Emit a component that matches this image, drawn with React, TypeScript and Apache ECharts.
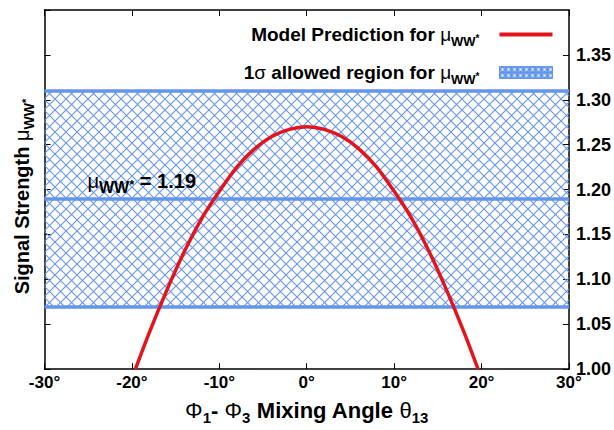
import { useEffect, useRef } from 'react';
import * as echarts from 'echarts';

// ---- data ----
const curveX = [-19.6, -18, -16, -14, -12, -10, -8, -6, -4, -2, 0, 2, 4, 6, 8, 10, 12, 14, 16, 18, 19.6];
const curveY = [1.0, 1.041, 1.088, 1.131, 1.168, 1.198, 1.225, 1.245, 1.259, 1.267, 1.27, 1.267, 1.259, 1.245, 1.225, 1.198, 1.168, 1.131, 1.088, 1.041, 1.0];
const bandLow = 1.07;
const bandHigh = 1.31;
const bandCentral = 1.19;
const xRange = [-30, 30];
const xStep = 10;
const yRange = [1.0, 1.4];
const yStep = 0.05;

const nameModel = 'Model Prediction for μWW*';
const nameBand = '1σ allowed region for μWW*';

const BLUE = '#6495ed';
const RED = '#e3141c';
const SANS = '"Liberation Sans", Arial, Helvetica, sans-serif';
const HATCH = 11;

function hatchCanvas(): string {
  const c = document.createElement('canvas');
  c.width = HATCH;
  c.height = HATCH;
  const ctx = c.getContext('2d')!;
  ctx.strokeStyle = BLUE;
  ctx.lineWidth = 1.1;
  ctx.beginPath();
  ctx.moveTo(-1, -1);
  ctx.lineTo(HATCH + 1, HATCH + 1);
  ctx.moveTo(HATCH + 1, -1);
  ctx.lineTo(-1, HATCH + 1);
  ctx.stroke();
  return c.toDataURL();
}

function legendCanvas(): string {
  const c = document.createElement('canvas');
  c.width = 6;
  c.height = 6;
  const ctx = c.getContext('2d')!;
  ctx.fillStyle = BLUE;
  ctx.fillRect(0, 0, 6, 6);
  ctx.strokeStyle = '#ffffff';
  ctx.lineWidth = 1;
  ctx.beginPath();
  ctx.moveTo(1.5, 1.5);
  ctx.lineTo(4.5, 4.5);
  ctx.moveTo(4.5, 1.5);
  ctx.lineTo(1.5, 4.5);
  ctx.stroke();
  return c.toDataURL();
}

function richSet(main: number, sub: number, subPad: number, endPad = 0) {
  return {
    b: { fontFamily: SANS, fontWeight: 'bold', fontSize: main, color: '#000', lineHeight: main + 3 },
    g: { fontFamily: SANS, fontWeight: 'normal', fontSize: main, color: '#000', lineHeight: main + 3 },
    sub: { fontFamily: SANS, fontWeight: 'bold', fontSize: sub, color: '#000', lineHeight: sub, padding: [subPad, 0, 0, 0] },
    st: {
      fontFamily: SANS,
      fontWeight: 'bold',
      fontSize: Math.round(sub * 0.8),
      color: '#000',
      lineHeight: sub,
      padding: [Math.round(subPad * 0.6), endPad, 0, 0],
    },
  };
}

export default function App() {
  const ref = useRef<HTMLDivElement>(null);
  useEffect(() => {
    if (!ref.current) return;
    const chart = echarts.init(ref.current, null, { renderer: 'svg' });
    const hatch = { image: hatchCanvas(), repeat: 'repeat', imageWidth: HATCH, imageHeight: HATCH };
    const legendPat = { image: legendCanvas(), repeat: 'repeat', imageWidth: 6, imageHeight: 6 };
    const axisLine = { show: true, onZero: false, lineStyle: { color: '#000', width: 1.5 } };
    const axisTick = { show: true, inside: true, length: 6, lineStyle: { color: '#000', width: 1 } };
    const lineIcon =
      'path://M0,0 L0.01,0 L0,0.01 Z M0,4 L53,4 L53,8 L0,8 Z M53,12 L52.99,12 L53,11.99 Z';

    const option: any = {
      animation: false,
      backgroundColor: '#ffffff',
      grid: { left: 39, right: 42, top: 10, bottom: 55 },
      legend: {
        orient: 'vertical',
        align: 'right',
        right: 61,
        top: 21,
        padding: 0,
        itemGap: 11,
        itemWidth: 53,
        itemHeight: 12,
        selectedMode: false,
        data: [
          { name: nameModel, icon: lineIcon, itemStyle: { color: RED } },
          { name: nameBand, icon: 'rect', itemStyle: { color: legendPat, borderColor: BLUE, borderWidth: 1 } },
        ],
        formatter: (n: string) =>
          n === nameModel
            ? '{b|Model Prediction for }{g|μ}{sub|WW}{st|*}'
            : '{b|1}{g|σ}{b| allowed region for }{g|μ}{sub|WW}{st|*}',
        textStyle: { rich: richSet(19, 13, 14, 15) },
      },
      xAxis: [
        {
          type: 'value',
          min: xRange[0],
          max: xRange[1],
          interval: xStep,
          position: 'bottom',
          axisLine,
          axisTick,
          splitLine: { show: false },
          axisLabel: {
            formatter: (v: number) => v + '°',
            color: '#000',
            fontFamily: SANS,
            fontWeight: 'bold',
            fontSize: 17,
            margin: 5,
          },
          name: '{g|Φ}{sub|1}{b|- }{g|Φ}{sub|3}{b| Mixing Angle }{g|θ}{sub|13}',
          nameLocation: 'middle',
          nameGap: 23,
          nameTextStyle: { rich: richSet(22, 15, 14) },
        },
        {
          type: 'value',
          min: xRange[0],
          max: xRange[1],
          interval: xStep,
          position: 'top',
          axisLine,
          axisTick,
          splitLine: { show: false },
          axisLabel: { show: false },
        },
      ],
      yAxis: [
        {
          type: 'value',
          min: yRange[0],
          max: yRange[1],
          interval: yStep,
          position: 'left',
          axisLine,
          axisTick,
          splitLine: { show: false },
          axisLabel: { show: false },
          name: '{b|Signal Strength }{g|μ}{sub|WW}{st|*}',
          nameLocation: 'middle',
          nameGap: 11,
          nameTextStyle: { rich: richSet(20, 14, 14), padding: [0, 14, 0, 0] },
        },
        {
          type: 'value',
          min: yRange[0],
          max: yRange[1],
          interval: yStep,
          position: 'right',
          axisLine,
          axisTick,
          splitLine: { show: false },
          axisLabel: {
            formatter: (v: number) => v.toFixed(2),
            showMaxLabel: false,
            color: '#000',
            fontFamily: SANS,
            fontWeight: 'bold',
            fontSize: 18,
            margin: 7,
          },
        },
      ],
      series: [
        {
          name: nameBand,
          type: 'line',
          data: [],
          z: 1,
          silent: true,
          itemStyle: { color: BLUE },
          markArea: {
            silent: true,
            itemStyle: { color: hatch },
            data: [[{ yAxis: bandLow }, { yAxis: bandHigh }]],
          },
          markLine: {
            silent: true,
            symbol: ['none', 'none'],
            lineStyle: { color: BLUE, width: 3.5, type: 'solid' },
            label: { show: false },
            data: [
              { yAxis: bandHigh },
              {
                yAxis: bandCentral,
                label: {
                  show: true,
                  position: 'insideStartTop',
                  distance: [43, 6],
                  formatter: '{g|μ}{sub|WW}{st|*}{b| = 1.19}',
                  rich: richSet(20, 16, 12),
                },
              },
              { yAxis: bandLow },
            ],
          },
        },
        {
          name: nameModel,
          type: 'line',
          data: curveX.map((x, i) => [x, curveY[i]]),
          smooth: 0.3,
          showSymbol: false,
          symbol: 'none',
          z: 5,
          silent: true,
          lineStyle: { color: RED, width: 3.5 },
          itemStyle: { color: RED },
        },
      ],
    };
    chart.setOption(option);
    return () => chart.dispose();
  }, []);
  return (
    <div
      ref={ref}
      style={{ position: 'fixed', left: 0, top: 0, width: 614, height: 430, background: '#fff' }}
    />
  );
}
